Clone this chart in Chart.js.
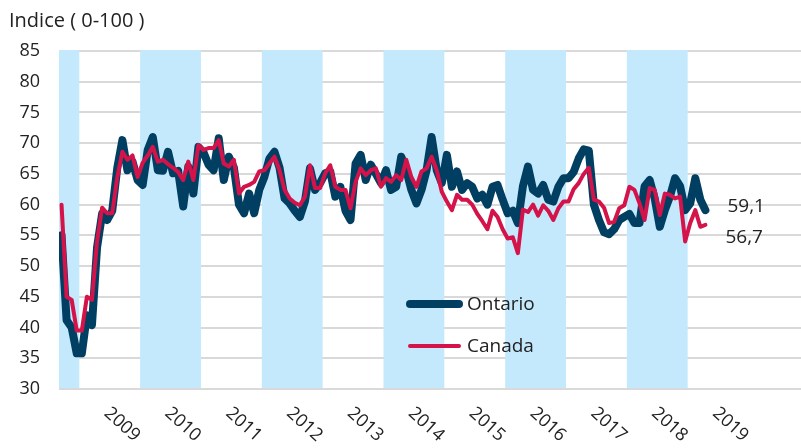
<!DOCTYPE html>
<html>
<head>
<meta charset="utf-8">
<script src="https://cdn.jsdelivr.net/npm/chart.js@4.4.1/dist/chart.umd.min.js"></script>
<style>
  html, body { margin: 0; padding: 0; background: #fff; }
  #wrap { width: 801px; height: 448px; position: relative; }
</style>
</head>
<body>
<div id="wrap"><canvas id="chart"></canvas></div>
<script>
// monthly index, first point = sept. 2008
const firstYear = 2008
const firstMonth = 9

const ontario = [
  55, 41.2, 40, 35.8, 35.8, 42, 40.4, 53, 58.5, 57.5, 59, 66,
  70.5, 65.6, 67, 64, 63.2, 68.9, 71, 65.6, 65.5, 68.6, 65.1, 65.5,
  59.7, 66.2, 61.8, 69.4, 68.5, 66.5, 65.6, 70.8, 64, 67.8, 66, 60,
  58.6, 61.8, 58.6, 62.4, 64.5, 67.5, 68.6, 66, 61, 60.2, 59, 58,
  60.5, 65.9, 62.4, 63.5, 65.1, 65.4, 61.3, 62.9, 59, 57.5, 66.7, 68.1,
  64, 66.5, 65, 63.5, 65.6, 62.4, 62.9, 67.8, 65.6, 62.4, 60.2, 62.4,
  65.6, 71, 65.6, 63.5, 68.1, 62.9, 65.4, 62.4, 63.5, 62.9, 61, 61.6,
  60, 62.9, 63.2, 60.8, 58.6, 59, 57, 63, 66.2, 62.4, 61.8, 63.2,
  60.8, 60.5, 62.9, 64.3, 64.3, 65.3, 67.5, 69, 68.8, 60, 57.5, 55.5,
  55.2, 56, 57.5, 58, 58.5, 57, 57, 63, 64, 61, 56.4, 59.1,
  61.3, 64.3, 63, 59.1, 60.2, 64.3, 60.8, 59.1
]

const canada = [
  60, 45, 44.5, 39.5, 39.5, 45, 44.5, 54, 59.5, 58.6, 58.6, 64.5,
  68.6, 67.3, 68, 64.5, 66.8, 68, 69.4, 67, 67.3, 66.6, 66, 65.3,
  64, 67, 64, 69.7, 68.9, 69.2, 69.2, 70.5, 66.7, 66.2, 67.3, 61.8,
  62.9, 63.2, 63.7, 65.4, 65.6, 66.7, 67.8, 65.6, 62.4, 61, 60.3, 59.9,
  61.3, 66.4, 62.7, 62.7, 65.1, 66.4, 62.9, 62.4, 62.4, 59.4, 63.7, 65.9,
  64.8, 65.6, 65.9, 62.9, 64.3, 63.7, 64.8, 64, 67.3, 64.5, 62.9, 65.4,
  65.9, 67.8, 65.6, 62.1, 60.5, 59.1, 61.6, 60.8, 60.8, 60, 58.5, 57.3,
  56, 59, 58, 56, 54.5, 54.7, 52.1, 59.2, 58.8, 60, 58.2, 59.9,
  59, 57.5, 59.4, 60.5, 60.5, 62.5, 63.5, 65, 66, 60.8, 60.5, 59.5,
  57, 57.2, 59.4, 59.9, 62.9, 62.4, 60.2, 57.5, 62.7, 62.4, 58.3, 61.8,
  61.6, 61, 61.3, 54, 57, 59.1, 56.4, 56.7
]

const years = ['2009', '2010', '2011', '2012', '2013', '2014', '2015', '2016', '2017', '2018', '2019']
const shadedYears = [2008, 2010, 2012, 2014, 2016, 2018]
const endLabels = ['59,1', '56,7']

const navy = '#003f62'
const red = '#d4134a'
const textColor = '#222'
const font = "'Open Sans', sans-serif"

function monthIndex(year, month) {
  return (year - firstYear) * 12 + (month - firstMonth)
}

Chart.defaults.font.family = font
Chart.defaults.color = textColor

// light blue band every second year
const bands = {
  id: 'bands',
  beforeDatasetsDraw(chart) {
    const {ctx, chartArea, scales: {x}} = chart
    ctx.save()
    ctx.fillStyle = '#c4e9fc'
    shadedYears.forEach(yr => {
      let a = x.getPixelForValue(monthIndex(yr, 1) - 0.5)
      let b = x.getPixelForValue(monthIndex(yr, 1) + 11.5)
      a = Math.max(a, chartArea.left)
      ctx.fillRect(a, chartArea.top - 1, b - a, chartArea.bottom - chartArea.top)
    })
    ctx.restore()
  }
}

// rotated year labels, title, legend, end values
const extras = {
  id: 'extras',
  afterDraw(chart) {
    const {ctx, chartArea, scales: {x, y}} = chart
    ctx.save()
    ctx.fillStyle = textColor

    ctx.font = `18px ${font}`
    years.forEach(yr => {
      const px = x.getPixelForValue(monthIndex(+yr, 1) + 5.5)
      ctx.save()
      ctx.translate(px + 3, chartArea.bottom + 15)
      ctx.rotate(42 * Math.PI / 180)
      ctx.textAlign = 'left'
      ctx.textBaseline = 'top'
      ctx.fillText(yr, 0, 0)
      ctx.restore()
    })

    ctx.font = `20px ${font}`
    ctx.textAlign = 'left'
    ctx.textBaseline = 'alphabetic'
    ctx.fillText('Indice ( 0-100 )', 9, 27)

    // legend
    ctx.lineCap = 'round'
    const items = [
      {label: 'Ontario', color: navy, width: 8, y: 304},
      {label: 'Canada', color: red, width: 4, y: 346}
    ]
    ctx.font = `19px ${font}`
    ctx.textBaseline = 'middle'
    items.forEach(it => {
      ctx.strokeStyle = it.color
      ctx.lineWidth = it.width
      ctx.beginPath()
      ctx.moveTo(410, it.y)
      ctx.lineTo(459, it.y)
      ctx.stroke()
      ctx.fillText(it.label, 467, it.y + 1)
    })

    // last values
    const last = ontario.length - 1
    const lx = x.getPixelForValue(last)
    ctx.fillText(endLabels[0], lx + 22, y.getPixelForValue(ontario[last]) - 4)
    ctx.fillText(endLabels[1], lx + 20, y.getPixelForValue(canada[last]) + 13)
    ctx.restore()
  }
}

const config = {
  type: 'line',
  data: {
    datasets: [
      {
        label: 'Ontario',
        data: ontario.map((v, i) => ({x: i, y: v})),
        borderColor: navy,
        backgroundColor: navy,
        borderWidth: 8,
        order: 1
      },
      {
        label: 'Canada',
        data: canada.map((v, i) => ({x: i, y: v})),
        borderColor: red,
        backgroundColor: red,
        borderWidth: 4,
        order: 0
      }
    ]
  },
  options: {
    responsive: true,
    maintainAspectRatio: false,
    animation: false,
    layout: { padding: { top: 51, bottom: 59, left: 0, right: 0 } },
    elements: {
      point: { radius: 0 },
      line: { tension: 0, borderJoinStyle: 'round', borderCapStyle: 'round' }
    },
    plugins: {
      legend: { display: false },
      tooltip: { enabled: false }
    },
    scales: {
      x: {
        type: 'linear',
        display: false,
        min: -0.5,
        max: 145.85
      },
      y: {
        min: 30,
        max: 85,
        afterFit(scale) { scale.width = 59 },
        border: { display: false },
        grid: { color: '#d9d9d9', lineWidth: 2, drawTicks: false },
        ticks: {
          stepSize: 5,
          padding: 19,
          color: textColor,
          font: { size: 18 }
        }
      }
    }
  },
  plugins: [bands, extras]
}

const myChart = new Chart(document.getElementById('chart'), config)
</script>
</body>
</html>
